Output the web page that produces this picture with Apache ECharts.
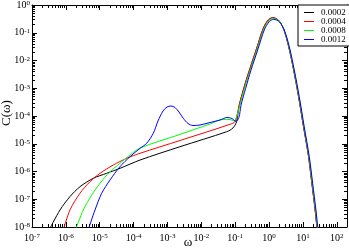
<!DOCTYPE html>
<html><head><meta charset="utf-8">
<script src="https://cdn.jsdelivr.net/npm/echarts@6/dist/echarts.min.js"></script>
<style>html,body{margin:0;padding:0;background:#fff}#c{width:349px;height:251px}</style>
</head><body><div id="c"></div>
<script>
// ---- data ----
const seriesNames = ['0.0002', '0.0004', '0.0008', '0.0012'];
const seriesColors = ['#000000', '#ff0000', '#00ff00', '#0000ff'];

const omega0002 = [3.16e-7, 6.71e-7, 1.32e-6, 2.61e-6, 6.46e-6, 1.60e-5, 3.96e-5, 1.55e-4, 2.34e-3, 5.60e-2, 8.59e-2, 0.110, 0.132, 0.195, 0.273, 0.431, 0.675, 0.948, 1.28, 1.87, 2.63, 3.69, 5.19, 7.28, 10.2, 14.4, 18.1, 22.6, 25.5, 26.9];
const c0002 = [7.59e-9, 4.10e-8, 1.24e-7, 2.83e-7, 5.69e-7, 8.61e-7, 1.30e-6, 2.59e-6, 7.83e-6, 2.72e-5, 3.70e-5, 6.31e-5, 2.51e-4, 1.41e-3, 5.13e-3, 2.75e-2, 0.145, 0.288, 0.348, 0.288, 0.145, 3.62e-2, 5.24e-3, 5.71e-4, 4.74e-5, 3.94e-6, 4.29e-7, 4.72e-8, 1.18e-8, 6.31e-9];

const omega0004 = [8.32e-7, 1.32e-6, 2.61e-6, 5.15e-6, 1.02e-5, 2.51e-5, 6.25e-5, 1.55e-4, 2.34e-3, 7.02e-2, 9.86e-2, 0.132, 0.195, 0.273, 0.431, 0.675, 0.948, 1.28, 1.87, 2.63, 3.69, 5.19, 7.28, 10.2, 14.4, 18.1, 22.6, 25.5, 26.9];
const c0004 = [7.59e-9, 4.10e-8, 1.64e-7, 4.29e-7, 8.61e-7, 1.71e-6, 2.99e-6, 4.53e-6, 1.31e-5, 5.02e-5, 6.34e-5, 2.51e-4, 1.41e-3, 5.13e-3, 2.75e-2, 0.145, 0.288, 0.350, 0.288, 0.145, 3.62e-2, 5.24e-3, 5.71e-4, 4.74e-5, 3.94e-6, 4.29e-7, 4.72e-8, 1.18e-8, 6.31e-9];

const omega0008 = [1.91e-6, 3.27e-6, 5.79e-6, 1.02e-5, 2.01e-5, 3.96e-5, 7.82e-5, 1.55e-4, 2.34e-3, 1.80e-2, 4.36e-2, 7.02e-2, 9.20e-2, 0.113, 0.136, 0.202, 0.283, 0.446, 0.699, 0.981, 1.32, 1.94, 2.72, 3.82, 5.37, 7.53, 10.6, 14.9, 18.7, 23.4, 26.4, 27.8];
const c0008 = [7.76e-9, 4.10e-8, 1.42e-7, 3.76e-7, 9.84e-7, 1.97e-6, 3.94e-6, 7.03e-6, 2.17e-5, 5.15e-5, 7.48e-5, 7.48e-5, 6.61e-5, 1.00e-4, 2.38e-4, 1.31e-3, 4.77e-3, 2.56e-2, 0.135, 0.268, 0.324, 0.268, 0.135, 3.37e-2, 4.87e-3, 5.31e-4, 4.41e-5, 3.66e-6, 3.99e-7, 4.39e-8, 1.10e-8, 5.87e-9];

const omega0012 = [4.57e-6, 7.24e-6, 1.14e-5, 2.01e-5, 3.96e-5, 7.82e-5, 1.55e-4, 2.43e-4, 3.81e-4, 5.25e-4, 7.38e-4, 9.68e-4, 1.27e-3, 1.67e-3, 2.19e-3, 2.93e-3, 4.04e-3, 5.66e-3, 9.12e-3, 1.80e-2, 3.56e-2, 5.71e-2, 8.04e-2, 0.105, 0.129, 0.148, 0.204, 0.292, 0.461, 0.722, 1.01, 1.37, 2.00, 2.81, 3.95, 5.55, 7.79, 10.9, 15.4, 19.4, 24.2, 27.3, 28.8];
const c0012 = [7.94e-9, 4.10e-8, 1.64e-7, 4.94e-7, 1.49e-6, 3.41e-6, 6.85e-6, 1.04e-5, 2.38e-5, 6.61e-5, 1.51e-4, 2.11e-4, 2.29e-4, 2.02e-4, 1.39e-4, 8.26e-5, 5.37e-5, 4.55e-5, 4.74e-5, 5.83e-5, 7.18e-5, 8.83e-5, 8.13e-5, 6.34e-5, 8.91e-5, 2.40e-4, 1.00e-3, 4.46e-3, 2.39e-2, 0.126, 0.251, 0.303, 0.251, 0.126, 3.15e-2, 4.56e-3, 4.97e-4, 4.12e-5, 3.43e-6, 3.73e-7, 4.11e-8, 1.03e-8, 5.49e-9];

// axis ranges and tick labels (decade exponents)
const xMin = 1e-7, xMax = 200;
const yMin = 1e-8, yMax = 1;
const xTickExps = [-7, -6, -5, -4, -3, -2, -1, 0, 1, 2];
const yTickExps = [-8, -7, -6, -5, -4, -3, -2, -1, 0];
const xTitle = 'ω';
const yTitle = 'C(ω)';

// ---- build ----
const omegas = [omega0002, omega0004, omega0008, omega0012];
const cs = [c0002, c0004, c0008, c0012];
const SERIF = '"Liberation Serif", "DejaVu Serif", serif';

function minorsOf(exps, hi) {
  const out = [];
  exps.forEach(e => { for (let k = 2; k <= 9; k++) { const v = e + Math.log10(k); if (v < hi) out.push(v); } });
  return out;
}
const xLo = Math.log10(xMin), xHi = Math.log10(xMax);
const yLo = Math.log10(yMin), yHi = Math.log10(yMax);
const xMinor = minorsOf(xTickExps, xHi);
const yMinor = minorsOf(yTickExps, yHi);

const rich = {
  b: { fontFamily: SERIF, fontSize: 10, color: '#000', verticalAlign: 'bottom', lineHeight: 10 },
  s: { fontFamily: SERIF, fontSize: 7, color: '#000', verticalAlign: 'top', lineHeight: 7, padding: [0, 0, 5, 0] }
};
const fmt = v => '{b|10}{s|' + Math.round(v) + '}';

function ovAxis(isX, pos, ticks, len, labels, line) {
  return {
    type: 'value', position: pos,
    min: isX ? xLo : yLo, max: isX ? xHi : yHi,
    axisLine: { show: line, onZero: false, lineStyle: { color: '#000', width: 1 } },
    axisTick: { show: true, inside: true, length: len, customValues: ticks, lineStyle: { color: '#000', width: 1 } },
    axisLabel: labels ? { show: true, customValues: ticks, formatter: fmt, rich: rich, margin: isX ? 6 : 2 } : { show: false },
    splitLine: { show: false },
    silent: true
  };
}

const option = {
  animation: false,
  backgroundColor: '#fff',
  grid: { left: 32, right: 2, top: 5, bottom: 24, show: false, containLabel: false, outerBoundsMode: 'none' },
  xAxis: [
    { type: 'log', logBase: 10, min: xMin, max: xMax, show: false },
    ovAxis(true, 'bottom', xTickExps, 5, true, true),
    ovAxis(true, 'bottom', xMinor, 3, false, false),
    ovAxis(true, 'top', xTickExps, 5, false, true),
    ovAxis(true, 'top', xMinor, 3, false, false)
  ],
  yAxis: [
    { type: 'log', logBase: 10, min: yMin, max: yMax, show: false },
    ovAxis(false, 'left', yTickExps, 5, true, true),
    ovAxis(false, 'left', yMinor, 3, false, false),
    ovAxis(false, 'right', yTickExps, 5, false, true),
    ovAxis(false, 'right', yMinor, 3, false, false)
  ],
  legend: {
    data: seriesNames.map(n => ({ name: n, icon: 'rect' })),
    orient: 'vertical',
    left: 298, top: 5,
    padding: [3, 4, 2, 6],
    itemWidth: 10, itemHeight: 1, itemGap: 0,
    backgroundColor: '#fff', borderColor: '#000', borderWidth: 1, borderRadius: 0,
    textStyle: { fontFamily: SERIF, fontSize: 9, color: '#000', lineHeight: 8.6, padding: [0, 0, 0, 2] },
    selectedMode: false
  },
  series: seriesNames.map((n, i) => ({
    name: n, type: 'line', xAxisIndex: 0, yAxisIndex: 0,
    data: omegas[i].map((w, j) => [w, cs[i][j]]),
    showSymbol: false, symbol: 'none', smooth: 0.3,
    lineStyle: { color: seriesColors[i], width: 1 },
    itemStyle: { color: seriesColors[i] },
    clip: true, z: 2 + i
  })),
  graphic: [
    { type: 'text', x: 188, y: 243, style: { text: xTitle, fontFamily: SERIF, fontSize: 13, fill: '#000', align: 'center', verticalAlign: 'middle' } },
    { type: 'text', x: 7, y: 113, rotation: Math.PI / 2, style: { text: yTitle, fontFamily: SERIF, fontSize: 13, fill: '#000', align: 'center', verticalAlign: 'middle' } }
  ]
};

const chart = echarts.init(document.getElementById('c'), null, { renderer: 'canvas' });
chart.setOption(option);
</script>
</body></html>
